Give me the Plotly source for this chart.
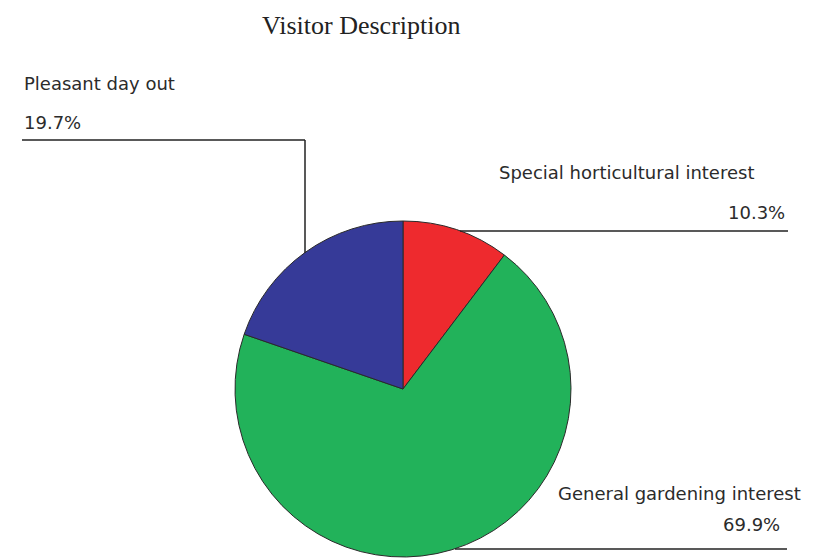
import plotly.graph_objects as go

W, H = 816, 558
OFF = 8  # page body margin in the browser shot

# data
labels = ["Special horticultural interest", "General gardening interest", "Pleasant day out"]
values = [10.3, 69.9, 19.7]
colors = ["#EE2A2E", "#22B25A", "#363A98"]
pct_text = ["10.3%", "69.9%", "19.7%"]


def px(x):
    return (x - OFF) / W


def py(y):
    return 1 - (y - OFF) / H


fig = go.Figure(
    go.Pie(
        labels=labels,
        values=values,
        sort=False,
        direction="clockwise",
        rotation=0,
        textinfo="none",
        marker=dict(colors=colors, line=dict(color="#2a2a2a", width=1)),
        domain=dict(x=[px(235), px(571)], y=[py(557), py(221)]),
        showlegend=False,
    )
)

lab_font = dict(family="DejaVu Sans", size=18, color="#2b2b2b")

# label text (name line + percent line) for each slice
ann = [
    (labels[2], 22, 84, "left"),
    (pct_text[2], 22, 122, "left"),
    (labels[0], 497, 172, "left"),
    (pct_text[0], 787, 213, "right"),
    (labels[1], 556, 493, "left"),
    (pct_text[1], 782, 524, "right"),
]
for txt, x, y, anc in ann:
    fig.add_annotation(
        text=txt, x=px(x), y=py(y), xref="paper", yref="paper",
        xanchor=anc, yanchor="middle", showarrow=False, font=lab_font,
    )

# leader lines
line = dict(color="#222222", width=1.5)
for x0, y0, x1, y1 in [
    (22, 140, 305, 140),
    (305, 140, 305, 253),
    (460, 231, 788, 231),
    (455, 549, 787, 549),
]:
    fig.add_shape(type="line", xref="paper", yref="paper",
                  x0=px(x0), y0=py(y0), x1=px(x1), y1=py(y1), line=line)

fig.add_annotation(
    text="Visitor Description", x=px(361), y=py(25), xref="paper", yref="paper",
    xanchor="center", yanchor="middle", showarrow=False,
    font=dict(family="Liberation Serif", size=26, color="#222222"),
)

fig.update_layout(
    width=W, height=H,
    margin=dict(l=0, r=0, t=0, b=0),
    paper_bgcolor="white",
    plot_bgcolor="white",
)
fig.write_html("out.html")
